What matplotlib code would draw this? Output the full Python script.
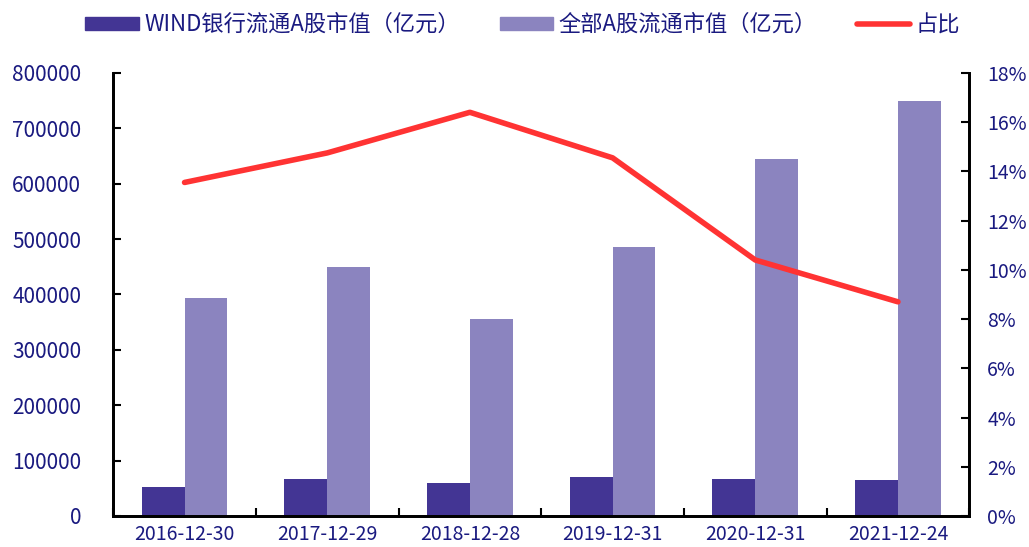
import matplotlib
matplotlib.use('Agg')
import matplotlib.pyplot as plt
import numpy as np
from matplotlib.patches import Patch
from matplotlib.lines import Line2D

# 字体设置
plt.rcParams['font.family'] = ['Noto Sans CJK SC', 'DejaVu Sans']
plt.rcParams['axes.unicode_minus'] = False

# 数据
dates = ['2016-12-30', '2017-12-29', '2018-12-28', '2019-12-31', '2020-12-31', '2021-12-24']
bank_cap = [52000, 67000, 59500, 70500, 67000, 65000]
all_cap = [393500, 449500, 355500, 485500, 645000, 750000]
ratio = [13.55, 14.75, 16.4, 14.55, 10.4, 8.7]

dark = '#433594'
light = '#8B84BF'
red = '#FF3333'
txt = '#1A1A80'

fig = plt.figure(figsize=(10.29, 5.47), dpi=100)
ax = fig.add_axes([0.110, 0.0567, 0.832, 0.81])
ax2 = ax.twinx()

x = np.arange(len(dates))
w = 0.3
ax.bar(x - w / 2, bank_cap, w, color=dark, zorder=2)
ax.bar(x + w / 2, all_cap, w, color=light, zorder=2)
ax2.plot(x, ratio, color=red, linewidth=4, solid_capstyle='round', zorder=3)

ax.set_xlim(-0.5, len(dates) - 0.5)
ax.set_ylim(0, 800000)
ax.set_yticks(np.arange(0, 800001, 100000))
ax.set_yticklabels([f'{v}' for v in range(0, 800001, 100000)], fontsize=15, color=txt)
ax2.set_ylim(0, 18)
ax2.set_yticks(np.arange(0, 19, 2))
ax2.set_yticklabels([f'{v}%' for v in range(0, 19, 2)], fontsize=14, color=txt)

# x 轴：边界刻度 + 中心标签
ax.set_xticks(np.arange(-0.5, len(dates), 1.0))
ax.set_xticklabels([])
ax.set_xticks(x, minor=True)
ax.set_xticklabels(dates, minor=True, fontsize=14, color=txt)
ax.tick_params(axis='x', which='major', direction='in', length=6, width=1.5)
ax.tick_params(axis='x', which='minor', length=0, pad=6)
ax.tick_params(axis='y', direction='in', length=6, width=1.5, pad=23)
ax2.tick_params(axis='y', direction='in', length=6, width=1.5, pad=13)

for a in (ax, ax2):
    a.spines['top'].set_visible(False)
    for s in ('left', 'right', 'bottom'):
        a.spines[s].set_linewidth(2)

handles = [Patch(color=dark), Patch(color=light), Line2D([0], [0], color=red, linewidth=4, solid_capstyle='round')]
labels = ['WIND银行流通A股市值（亿元）', '全部A股流通市值（亿元）', '占比']
leg = fig.legend(handles, labels, loc='center', bbox_to_anchor=(0.508, 0.955), ncol=3, frameon=False,
                 fontsize=16, handlelength=2.4, handleheight=0.5, columnspacing=1.8, handletextpad=0.25)
for t in leg.get_texts():
    t.set_color(txt)

fig.savefig('out.png', dpi=100, facecolor='white')
